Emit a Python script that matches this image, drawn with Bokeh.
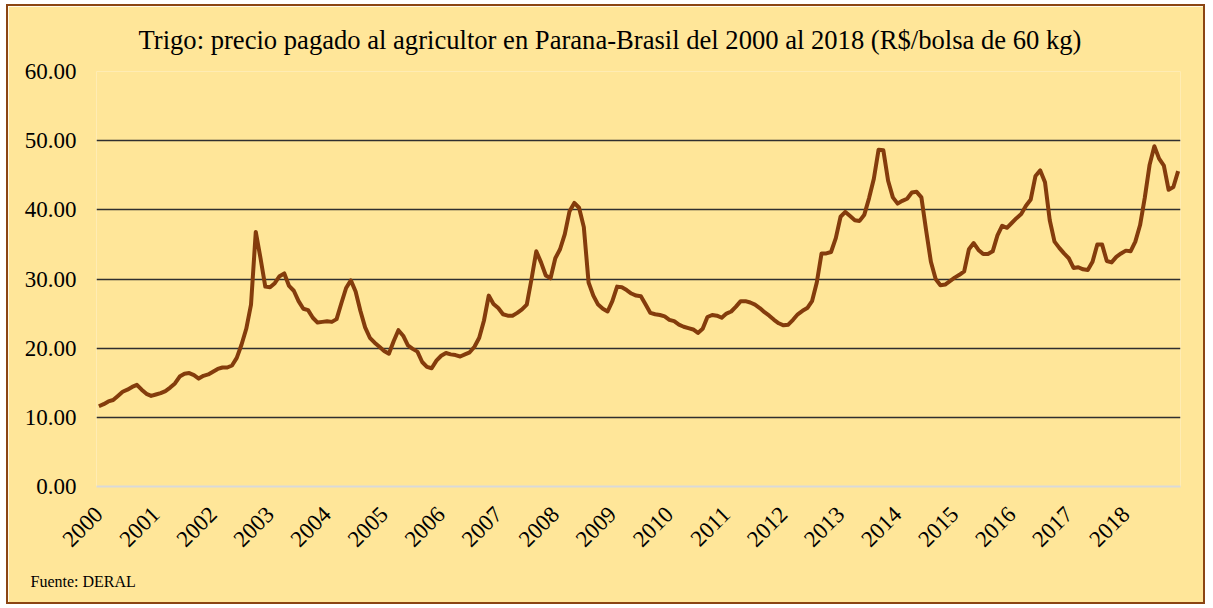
import math
from bokeh.plotting import figure
from bokeh.models import FixedTicker, NumeralTickFormatter, Range1d, Title
from bokeh.embed import file_html
from bokeh.resources import INLINE

# Tick labels (one per year, placed at January)
years = [str(y) for y in range(2000, 2019)]

# Monthly price, R$/bolsa 60 kg (Jan..Dec)
p2000 = [11.6, 11.9, 12.3, 12.5, 13.1, 13.7, 14.0, 14.4, 14.7, 14.0, 13.4, 13.1]
p2001 = [13.3, 13.5, 13.8, 14.3, 14.9, 15.9, 16.3, 16.4, 16.1, 15.6, 16.0, 16.2]
p2002 = [16.6, 17.0, 17.2, 17.2, 17.5, 18.6, 20.5, 22.8, 26.3, 36.8, 33.0, 28.9]
p2003 = [28.8, 29.4, 30.4, 30.8, 29.0, 28.3, 26.8, 25.7, 25.5, 24.4, 23.7, 23.8]
p2004 = [23.9, 23.8, 24.2, 26.5, 28.7, 29.8, 28.2, 25.4, 23.0, 21.5, 20.8, 20.2]
p2005 = [19.6, 19.2, 21.0, 22.6, 21.8, 20.4, 19.9, 19.5, 18.0, 17.3, 17.1, 18.2]
p2006 = [18.9, 19.3, 19.1, 19.0, 18.8, 19.1, 19.4, 20.2, 21.5, 24.0, 27.6, 26.4]
p2007 = [25.8, 24.9, 24.7, 24.7, 25.1, 25.6, 26.3, 30.0, 34.0, 32.4, 30.5, 30.1]
p2008 = [33.0, 34.3, 36.5, 39.8, 41.0, 40.3, 37.5, 29.5, 27.6, 26.3, 25.7, 25.3]
p2009 = [26.8, 28.9, 28.8, 28.4, 27.9, 27.6, 27.5, 26.3, 25.1, 24.9, 24.8, 24.6]
p2010 = [24.1, 23.9, 23.4, 23.1, 22.9, 22.7, 22.2, 22.8, 24.5, 24.8, 24.7, 24.4]
p2011 = [25.0, 25.3, 26.0, 26.8, 26.8, 26.6, 26.3, 25.8, 25.2, 24.7, 24.1, 23.6]
p2012 = [23.3, 23.4, 24.1, 24.9, 25.4, 25.8, 26.8, 29.5, 33.7, 33.7, 33.9, 35.9]
p2013 = [39.0, 39.7, 39.1, 38.5, 38.4, 39.3, 41.7, 44.5, 48.7, 48.6, 44.2, 41.8]
p2014 = [40.9, 41.3, 41.6, 42.5, 42.6, 41.8, 37.0, 32.5, 30.0, 29.1, 29.2, 29.7]
p2015 = [30.2, 30.6, 31.1, 34.3, 35.2, 34.2, 33.6, 33.6, 34.0, 36.3, 37.7, 37.4]
p2016 = [38.1, 38.8, 39.4, 40.6, 41.5, 44.9, 45.7, 44.0, 38.5, 35.4, 34.5, 33.7]
p2017 = [33.0, 31.6, 31.7, 31.4, 31.3, 32.5, 35.0, 35.0, 32.6, 32.4, 33.2, 33.7]
p2018 = [34.1, 34.0, 35.4, 37.8, 41.8, 46.5, 49.2, 47.4, 46.4, 42.9, 43.3, 45.6]

title_text = "Trigo: precio pagado al agricultor en Parana-Brasil del 2000 al 2018 (R$/bolsa de 60 kg)"
source_text = "Fuente: DERAL"

series = (p2000 + p2001 + p2002 + p2003 + p2004 + p2005 + p2006 + p2007 + p2008 +
          p2009 + p2010 + p2011 + p2012 + p2013 + p2014 + p2015 + p2016 + p2017 + p2018)
idx = list(range(len(series)))

BG = "#FFE699"
LINE = "#843C0C"
FONT = "Liberation Serif"

p = figure(width=1199, height=600, output_backend="svg", toolbar_location=None,
           x_range=Range1d(-0.5, len(series) - 0.5), y_range=Range1d(0, 60),
           min_border_left=88, min_border_right=27, min_border_top=63, min_border_bottom=120)
p.background_fill_color = BG
p.border_fill_color = BG
p.outline_line_color = None
p.styles = {"border": "2px solid #8B4513", "margin-left": "6px", "margin-top": "4px"}

# title (above) and source note (below)
p.title.text = title_text
p.title.align = "left"
p.title.offset = 42
p.title.text_font = FONT
p.title.text_font_size = "26.6px"
p.title.text_font_style = "normal"
p.title.text_color = "#000000"
p.title.text_line_height = 1.0
p.title.standoff = 33

src = Title(text=source_text, align="left", offset=-66, text_font=FONT,
            text_font_size="16px", text_font_style="normal", text_color="#000000",
            standoff=29)
p.add_layout(src, "below")

# y axis
p.yaxis.ticker = FixedTicker(ticks=[0, 10, 20, 30, 40, 50, 60])
p.yaxis.formatter = NumeralTickFormatter(format="0.00")
p.yaxis.axis_line_color = None
p.yaxis.major_tick_line_color = None
p.yaxis.minor_tick_line_color = None
p.yaxis.major_tick_out = 0
p.yaxis.major_tick_in = 0
p.yaxis.major_label_text_font = FONT
p.yaxis.major_label_text_font_size = "23px"
p.yaxis.major_label_text_color = "#000000"
p.yaxis.major_label_standoff = 20

# x axis
ticks = [12 * k for k in range(len(years))]
p.xaxis.ticker = FixedTicker(ticks=ticks)
p.xaxis.major_label_overrides = {t: y for t, y in zip(ticks, years)}
p.xaxis.major_label_orientation = math.pi / 4
p.xaxis.axis_line_color = "#D9D9D9"
p.xaxis.axis_line_width = 2
p.xaxis.major_tick_line_color = None
p.xaxis.minor_tick_line_color = None
p.xaxis.major_tick_out = 0
p.xaxis.major_tick_in = 0
p.xaxis.major_label_text_font = FONT
p.xaxis.major_label_text_font_size = "23px"
p.xaxis.major_label_text_color = "#000000"
p.xaxis.major_label_standoff = 24

# grid
p.xgrid.grid_line_color = None
p.ygrid.ticker = FixedTicker(ticks=[10, 20, 30, 40, 50, 60])
p.ygrid.grid_line_color = "#2F2F2F"
p.ygrid.grid_line_width = 1.6

p.line(idx, series, line_color=LINE, line_width=4, line_join="round")

open("out.html", "w").write(file_html(p, INLINE))
